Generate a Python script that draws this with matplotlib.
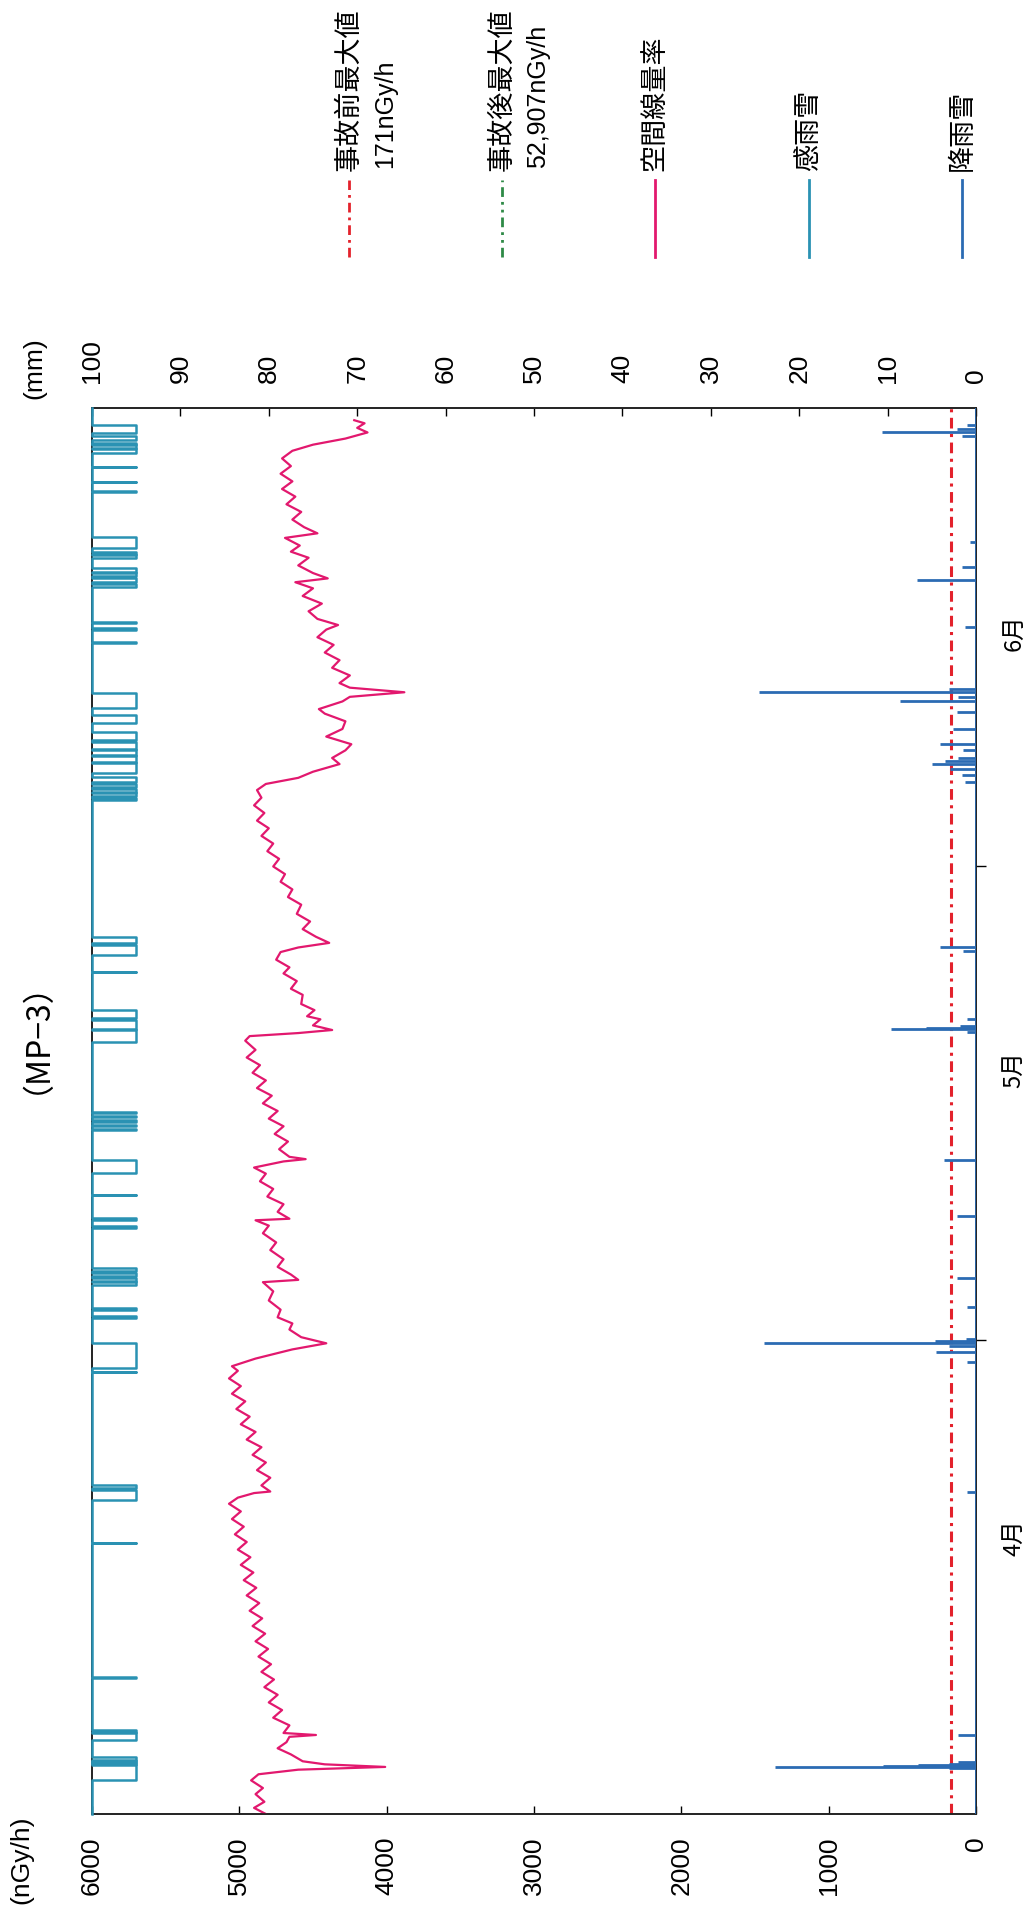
import matplotlib

matplotlib.use("Agg")

import matplotlib.pyplot as plt
from matplotlib.lines import Line2D

W, H = 1026, 1912

# time in days from 4/1 00:00 (axis runs 3/31 .. 6/30)
DOSE_DAY = [
    -1.0, -0.6, -0.2, 0.3, 0.7, 1.2, 1.6, 1.9, 2.08, 2.25, 2.45, 2.9, 3.3, 3.7, 4.05, 4.17, 4.3, 4.8,
    5.3, 5.8, 6.3, 6.8, 7.3, 7.8, 8.3, 8.8, 9.3, 9.8, 10.3, 10.8, 11.3, 11.8, 12.3, 12.8, 13.3, 13.8,
    14.3, 14.8, 15.3, 15.8, 16.3, 16.8, 17.3, 17.8, 18.3, 18.8, 19.3, 19.7, 20.0, 20.1, 20.5, 21.0,
    21.5, 22.0, 22.5, 23.0, 23.5, 24.0, 24.5, 25.0, 25.5, 26.0, 26.5, 27.0, 27.5, 28.0, 28.3, 28.8,
    29.4, 29.8, 30.2, 30.7, 31.1, 31.5, 32.0, 32.6, 33.2, 33.8, 33.95, 34.3, 34.8, 35.3, 35.9, 36.4,
    37.0, 37.5, 37.85, 37.95, 38.4, 38.9, 39.4, 39.9, 40.4, 40.9, 41.3, 41.7, 41.85, 42.0, 42.5, 43.0,
    43.5, 44.0, 44.5, 45.0, 45.5, 46.0, 46.5, 47.0, 47.5, 48.0, 48.5, 49.0, 49.6, 49.9, 50.1, 50.3,
    50.6, 51.0, 51.2, 51.6, 52.0, 52.6, 53.0, 53.5, 54.0, 54.4, 54.9, 55.4, 55.7, 56.0, 56.4, 56.9,
    57.4, 57.9, 58.5, 59.0, 59.5, 60.0, 60.5, 61.0, 61.5, 62.0, 62.5, 63.0, 63.5, 64.0, 64.5, 65.0,
    65.5, 66.0, 66.4, 66.8, 67.2, 67.7, 68.1, 68.6, 69.0, 69.5, 70.0, 70.5, 71.0, 71.3, 71.8, 72.1,
    72.4, 72.7, 73.0, 73.5, 74.0, 74.5, 75.0, 75.5, 76.0, 76.5, 76.8, 77.2, 77.7, 78.2, 78.7, 79.2,
    79.6, 79.85, 80.2, 80.7, 81.2, 81.6, 82.0, 82.5, 82.8, 83.2, 83.7, 84.2, 84.7, 85.2, 85.7, 86.2,
    86.7, 87.2, 87.7, 88.2, 88.6, 89.0, 89.4, 89.7, 90.0, 90.2,
]
DOSE_NGY = [
    4820, 4900, 4830, 4890, 4840, 4920, 4870, 4600, 4010, 4420, 4570, 4650, 4740, 4680, 4660, 4480, 4700, 4660,
    4770, 4710, 4800, 4740, 4830, 4765, 4850, 4785, 4870, 4805, 4890, 4825, 4910, 4845, 4930, 4865, 4950, 4885,
    4970, 4905, 4990, 4925, 5010, 4950, 5030, 4970, 5050, 4990, 5070, 5010, 4900, 4790, 4850, 4790,
    4880, 4820, 4910, 4850, 4950, 4890, 4990, 4930, 5020, 4960, 5050, 4990, 5070, 5010, 5050, 4890,
    4640, 4410, 4580, 4660, 4640, 4740, 4720, 4800, 4770, 4840, 4600, 4650, 4740, 4700, 4790, 4750,
    4840, 4800, 4890, 4660, 4740, 4700, 4810, 4770, 4860, 4820, 4900, 4700, 4550, 4660, 4730, 4670,
    4760, 4700, 4800, 4740, 4840, 4780, 4880, 4820, 4910, 4860, 4950, 4890, 4960, 4930, 4600, 4370,
    4500, 4450, 4540, 4490, 4580, 4570, 4650, 4610, 4700, 4660, 4750, 4720, 4600, 4390, 4480, 4570,
    4520, 4610, 4580, 4670, 4640, 4720, 4690, 4770, 4730, 4810, 4770, 4850, 4800, 4880, 4830, 4900,
    4850, 4880, 4820, 4600, 4500, 4320, 4370, 4280, 4240, 4410, 4300, 4280, 4420, 4460, 4300, 4250,
    3880, 4250, 4320, 4250, 4370, 4320, 4420, 4360, 4470, 4410, 4330, 4470, 4530, 4440, 4570, 4500,
    4620, 4400, 4500, 4600, 4530, 4650, 4590, 4690, 4470, 4560, 4640, 4580, 4680, 4620, 4710, 4640,
    4720, 4650, 4710, 4640, 4500, 4280, 4130, 4200, 4150, 4220,
]

RAIN_DAY = [
    2.0, 2.08, 2.15, 2.22, 2.3, 2.38, 4.17, 20.05, 28.6, 29.2, 29.6, 29.85, 29.95, 30.05, 32.2, 34.05,
    38.1, 41.8, 50.2, 50.35, 50.45, 50.55, 51.0, 55.5, 55.7, 66.5, 67.0, 67.4, 67.7, 67.9, 68.1, 68.6,
    69.0, 70.0, 71.1, 71.8, 72.1, 72.4, 72.6, 76.7, 79.75, 80.6, 82.2, 89.2, 89.4, 89.6, 89.9,
]
RAIN_MM = [
    3.0, 22.7, 10.5, 6.6, 3.0, 2.0, 2.0, 1.0, 1.0, 4.5, 3.0, 24.0, 4.6, 1.1, 1.0, 2.1,
    2.2, 3.6, 1.0, 9.6, 5.6, 1.8, 1.0, 1.5, 4.1, 1.2, 1.6, 2.9, 5.0, 3.5, 2.0, 1.5,
    4.1, 2.6, 2.2, 8.6, 2.0, 24.6, 3.0, 1.2, 6.7, 1.6, 0.7, 1.6, 10.6, 2.2, 1.0,
]

# rain/snow sensor "on" periods
SENSE_START = [
    1.23, 2.25, 2.40, 2.55, 3.84, 4.35, 7.93, 16.72, 19.55, 20.30, 27.91, 28.19, 31.46, 31.95,
    33.62, 33.90, 34.20, 34.50, 37.35, 37.90, 39.49, 40.95, 43.76, 44.00, 44.30, 44.60, 44.85,
    49.52, 50.35, 51.09, 54.08, 55.22, 56.00, 65.36, 65.60, 65.90, 66.20, 66.50, 67.13, 67.85,
    68.30, 68.70, 69.29, 70.40, 71.38, 75.62, 76.49, 76.90, 79.30, 79.60, 80.00, 80.30, 81.20,
    81.45, 81.85, 85.50, 86.15, 87.13, 88.07, 88.40, 88.65, 88.92, 89.38,
]
SENSE_END = [
    2.21, 2.35, 2.50, 2.73, 4.30, 4.50, 7.99, 16.76, 20.20, 20.53, 27.95, 29.82, 31.60, 32.12,
    33.80, 34.10, 34.40, 34.73, 37.45, 38.01, 39.53, 41.80, 43.85, 44.10, 44.40, 44.70, 44.94,
    50.31, 50.96, 51.62, 54.12, 55.87, 56.40, 65.50, 65.80, 66.10, 66.40, 66.87, 67.78, 68.20,
    68.60, 69.16, 69.81, 70.92, 72.36, 75.66, 76.60, 77.01, 79.50, 79.90, 80.20, 80.54, 81.35,
    81.59, 82.57, 85.54, 86.19, 87.17, 88.30, 88.60, 88.73, 89.18, 89.90,
]
SENSE_OFF_MM = 100
SENSE_ON_MM = 95

PRE_MAX = 171
MONTH_EDGES = [30, 61]
MONTH_POS = [17.7, 48.3, 76.9]
MONTH_LABELS = ["4月", "5月", "6月"]
DOSE_TICKS = [0, 1000, 2000, 3000, 4000, 5000, 6000]
MM_TICKS = [0, 10, 20, 30, 40, 50, 60, 70, 80, 90, 100]

MAGENTA = "#E2186E"
TEAL = "#2A92B3"
BLUE = "#2B6BB3"
RED = "#E3222C"
GREEN = "#2E8A46"

NUM_FONT = ["Liberation Sans Narrow", "Liberation Sans", "DejaVu Sans"]
LAT_FONT = ["Liberation Sans", "DejaVu Sans"]
JP_FONT = ["Noto Sans CJK JP", "DejaVu Sans"]

DASHDOT = (0, (3.5, 1.8, 1, 1.8))
DASHDOTDOT = (0, (3.5, 1.8, 1, 1.8, 1, 1.8))


def fx(px):
    return px / W


def fy(py):
    return 1 - py / H


fig = plt.figure(figsize=(W / 100, H / 100), dpi=100)
fig.patch.set_facecolor("white")

# rotated chart: time runs upward, values grow to the left
ax = fig.add_axes([fx(92), fy(1814), fx(976 - 92), (1814 - 408) / H])
ax2 = ax.twiny()

ax.set_xlim(6000, 0)
ax.set_ylim(-1, 91)
ax2.set_xlim(100, 0)

# dose rate
ax.plot(DOSE_NGY, DOSE_DAY, color=MAGENTA, lw=1.6, zorder=3)
ax.axvline(PRE_MAX, color=RED, lw=2.2, linestyle=DASHDOT, zorder=2)

# rain sensor step line
sx, sy = [SENSE_OFF_MM], [-1]
for s, e in zip(SENSE_START, SENSE_END):
    sx += [SENSE_OFF_MM, SENSE_ON_MM, SENSE_ON_MM, SENSE_OFF_MM]
    sy += [s, s, e, e]
sx.append(SENSE_OFF_MM)
sy.append(91)
ax2.plot(sx, sy, color=TEAL, lw=1.8, clip_on=False, zorder=4)

# precipitation
ax2.hlines(RAIN_DAY, 0, RAIN_MM, color=BLUE, lw=2.0, zorder=4)
ax2.axvline(0, color=BLUE, lw=2.0, zorder=4)

for a in (ax, ax2):
    for sp in a.spines.values():
        sp.set_linewidth(1.2)
        sp.set_color("#222222")

# bottom axis: nGy/h
ax.set_xticks(DOSE_TICKS)
ax.set_xticklabels([str(v) for v in DOSE_TICKS])
ax.tick_params(axis="x", direction="in", length=6, width=1, pad=16,
               labelsize=19, labelrotation=90)
plt.setp(ax.get_xticklabels(), family=NUM_FONT)

# top axis: mm
ax2.set_xticks(MM_TICKS)
ax2.set_xticklabels([str(v) for v in MM_TICKS])
ax2.tick_params(axis="x", direction="in", length=6, width=1, pad=18,
                labelsize=19, labelrotation=90)
plt.setp(ax2.get_xticklabels(), family=NUM_FONT)

# time axis on the right
ax.yaxis.tick_right()
ax.set_yticks(MONTH_EDGES)
ax.set_yticklabels(["", ""])
ax.set_yticks(MONTH_POS, minor=True)
ax.set_yticklabels(MONTH_LABELS, minor=True, fontsize=17, rotation=90, family=JP_FONT)
ax.tick_params(axis="y", which="major", direction="out", length=7, width=1)
ax.tick_params(axis="y", which="minor", length=0, pad=19)

# units and title
fig.text(fx(21), fy(1860), "(nGy/h)", rotation=90, ha="center", va="center",
         fontsize=19, family=LAT_FONT)
fig.text(fx(34), fy(368), "(mm)", rotation=90, ha="center", va="center",
         fontsize=19, family=LAT_FONT)
fig.text(fx(29), fy(1021), "（MP−3）", rotation=90, rotation_mode="anchor",
         ha="center", va="baseline", fontsize=23, family=JP_FONT)

# legend, written sideways like the chart
legend_x = [349, 502, 655, 809, 962]
legend_names = ["事故前最大値", "事故後最大値", "空間線量率", "感雨雪", "降雨雪"]
legend_colors = [RED, GREEN, MAGENTA, TEAL, BLUE]
legend_styles = [DASHDOT, DASHDOTDOT, "-", "-", "-"]
legend_values = {0: (385, "171nGy/h"), 1: (538, "52,907nGy/h")}

for i, (lx, name, col, ls) in enumerate(zip(legend_x, legend_names, legend_colors, legend_styles)):
    fig.add_artist(Line2D([fx(lx), fx(lx)], [fy(257), fy(180)], color=col,
                          lw=2.0, linestyle=ls))
    fig.text(fx(lx), fy(171), name, rotation=90, rotation_mode="anchor",
             ha="left", va="center", fontsize=19.5, family=JP_FONT)
    if i in legend_values:
        vx, vtxt = legend_values[i]
        fig.text(fx(vx), fy(168), vtxt, rotation=90, rotation_mode="anchor",
                 ha="left", va="center", fontsize=18, family=LAT_FONT)

fig.savefig("out.png", dpi=100, facecolor="white")
